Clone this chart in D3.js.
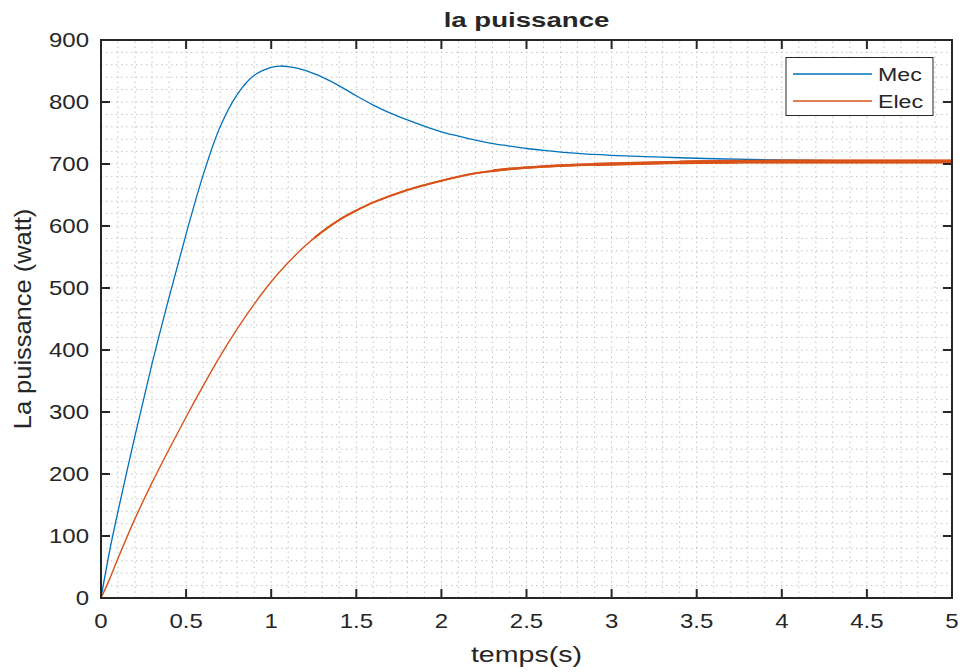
<!DOCTYPE html>
<html><head><meta charset="utf-8">
<script src="https://cdn.jsdelivr.net/npm/d3@7"></script>
<style>body{margin:0;background:#fff}svg{display:block}text{font-family:"Liberation Sans",Arial,sans-serif;fill:#262626}</style>
</head><body>
<script>
const mecT = [0,0.05,0.1,0.2,0.3,0.4,0.5,0.6,0.7,0.8,0.9,1.0,1.05,1.1,1.2,1.3,1.4,1.5,1.6,1.7,1.8,1.9,2.0,2.1,2.2,2.3,2.4,2.5,2.6,2.8,3.0,3.3,3.6,4.0,4.5,5.0];
const mecV = [0,75,140,262,378,485,587,682,760,812,843,856,858,857,851,840,826,810,795,782,771,761,752,745,738.5,733,729,725,722,717,714,711,708.5,706.5,705,705];
const elecT = [0,0.05,0.1,0.2,0.3,0.4,0.5,0.6,0.7,0.8,0.9,1.0,1.1,1.2,1.3,1.4,1.5,1.6,1.8,2.0,2.2,2.4,2.6,2.8,3.0,3.5,4.0,4.5,5.0];
const elecV = [0,30,64,128,186,240,292,342,390,434,474,510,541,568,591,610,625,638,658,673,685,692,696,698.5,700,703,704,704,704];
const xTicks = [0,0.5,1,1.5,2,2.5,3,3.5,4,4.5,5];
const yTicks = [0,100,200,300,400,500,600,700,800,900];
const seriesNames = ["Mec","Elec"];
const colors = ["#0072BD","#D95319"];

const W=965,H=672,m={l:101,r:13,t:40,b:74};
const SX=1.2;
const svg=d3.select("body").append("svg").attr("width",W).attr("height",H);
const x=d3.scaleLinear().domain([0,5]).range([m.l,W-m.r]);
const y=d3.scaleLinear().domain([0,900]).range([H-m.b,m.t]);

function txt(px,py,s,size,anchor,opts={}){
  const g=svg.append("g").attr("transform",`translate(${px},${py})${opts.rot?` rotate(${opts.rot})`:""} scale(${opts.sx||SX},1)`);
  const t=g.append("text").attr("x",0).attr("y",0).attr("text-anchor",anchor).attr("font-size",size).text(s);
  if(opts.bold) t.attr("font-weight","bold");
  return t;
}

// minor dotted grid
const g=svg.append("g").attr("stroke","#c4c4c4").attr("stroke-width",1).attr("stroke-dasharray","1.5,3.5");
d3.range(1,50).forEach(i=>{const v=i*0.1;g.append("line").attr("x1",x(v)).attr("x2",x(v)).attr("y1",y(0)).attr("y2",y(900));});
d3.range(1,45).forEach(i=>{const v=i*20;g.append("line").attr("y1",y(v)).attr("y2",y(v)).attr("x1",x(0)).attr("x2",x(5));});

// clip regions for progressively thicker (noisy) parts of Elec
const defs=svg.append("defs");
const steps=[[1.25,2.0],[2.3,2.7],[2.9,3.3],[3.4,3.8]];
steps.forEach((s,i)=>defs.append("clipPath").attr("id","c"+i).append("rect").attr("x",x(s[0])).attr("y",0).attr("width",W).attr("height",H));

const pts=(T,V)=>T.map((t,i)=>[t,V[i]]);
const line=d3.line().x(d=>x(d[0])).y(d=>y(d[1])).curve(d3.curveCatmullRom.alpha(0.5));
const mec=pts(mecT,mecV), elec=pts(elecT,elecV);
svg.append("path").attr("d",line(mec)).attr("fill","none").attr("stroke",colors[0]).attr("stroke-width",1.3);
svg.append("path").attr("d",line(elec)).attr("fill","none").attr("stroke",colors[1]).attr("stroke-width",1.4);
steps.forEach((s,i)=>svg.append("path").attr("d",line(elec)).attr("clip-path",`url(#c${i})`).attr("fill","none").attr("stroke",colors[1]).attr("stroke-width",s[1]));

// axes box & ticks
const ax=svg.append("g").attr("stroke","#262626").attr("stroke-width",2);
ax.append("rect").attr("x",x(0)).attr("y",y(900)).attr("width",x(5)-x(0)).attr("height",y(0)-y(900)).attr("fill","none");
xTicks.forEach(v=>{
  ax.append("line").attr("x1",x(v)).attr("x2",x(v)).attr("y1",y(0)).attr("y2",y(0)-9);
  ax.append("line").attr("x1",x(v)).attr("x2",x(v)).attr("y1",y(900)).attr("y2",y(900)+9);
  txt(x(v),y(0)+30,v,20,"middle");
});
yTicks.forEach(v=>{
  ax.append("line").attr("y1",y(v)).attr("y2",y(v)).attr("x1",x(0)).attr("x2",x(0)+9);
  ax.append("line").attr("y1",y(v)).attr("y2",y(v)).attr("x1",x(5)).attr("x2",x(5)-9);
  txt(x(0)-12,y(v)+7,v,20,"end");
});

txt((x(0)+x(5))/2,27,"la puissance",20,"middle",{bold:true,sx:1.38});
txt((x(0)+x(5))/2,662,"temps(s)",22,"middle",{sx:1.3});
txt(31,(y(0)+y(900))/2,"La puissance (watt)",24,"middle",{rot:-90,sx:1.06});

// legend
const lg=svg.append("g");
lg.append("rect").attr("x",786).attr("y",57.5).attr("width",147).attr("height",58).attr("fill","#fff").attr("stroke","#262626").attr("stroke-width",1);
seriesNames.forEach((n,i)=>{
  const yy=74+i*27;
  lg.append("line").attr("x1",793).attr("x2",872).attr("y1",yy).attr("y2",yy).attr("stroke",colors[i]).attr("stroke-width",1.3);
  txt(878,yy+7,n,19,"start",{sx:1.22});
});
</script>
</body></html>
